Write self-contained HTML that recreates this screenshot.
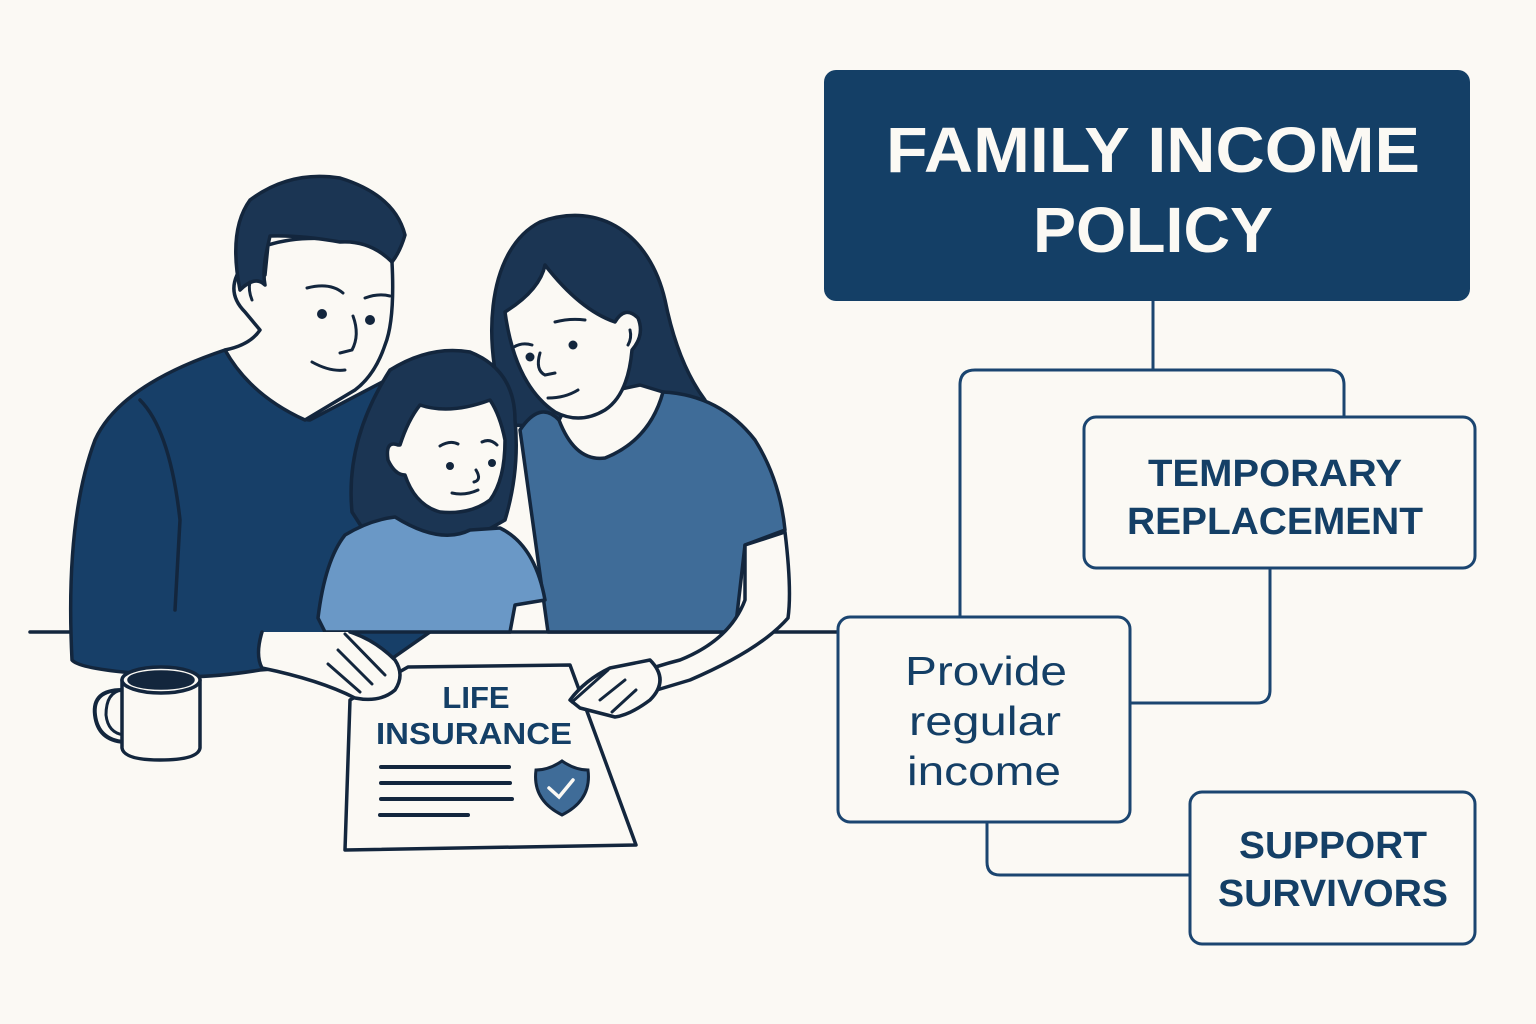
<!DOCTYPE html>
<html><head><meta charset="utf-8"><style>
html,body{margin:0;padding:0;background:#fbf9f4;}
svg{display:block}
</style></head><body>
<svg width="1536" height="1024" viewBox="0 0 1536 1024" xmlns="http://www.w3.org/2000/svg" font-family="Liberation Sans, sans-serif">
<rect width="1536" height="1024" fill="#fbf9f4"/>
<g stroke="#13263d" stroke-width="3.5" stroke-linejoin="round" stroke-linecap="round">
<line x1="30" y1="632" x2="840" y2="632" fill="none"/>
<!-- mother hair back -->
<path d="M510,425 C480,350 485,250 540,222 C600,200 650,235 665,300 C675,350 690,380 705,400 L640,430 Z" fill="#1b3553"/>
<!-- mother body -->
<path d="M548,632 L520,430 Q540,400 559,420 L663,392 Q720,395 755,440 Q780,480 785,530 L745,545 L735,632 Z" fill="#3f6c98"/>
<path d="M559,420 Q575,462 605,458 Q650,440 663,392 L640,385 L570,400 Z" fill="#fbf9f4"/>
<path d="M745,545 L785,532 Q792,590 788,618 Q760,650 690,680 L640,695 L620,700 L600,690 Q640,670 680,660 Q730,640 745,600 Z" fill="#fbf9f4"/>
<!-- mother face -->
<path d="M505,312 Q540,290 545,265 Q580,310 615,322 Q625,305 638,318 Q645,335 632,350 Q628,395 605,410 Q580,425 555,412 Q515,385 505,312 Z" fill="#fbf9f4"/>
<!-- father body -->
<path d="M72,660 Q65,520 95,440 Q120,385 225,350 L250,360 Q290,420 310,420 L390,378 L430,390 L430,632 L390,660 L260,670 Q200,680 160,675 Q80,670 72,660 Z" fill="#173f68"/>
<path d="M140,400 Q170,430 180,520 L175,610" fill="none"/>
<!-- father neck/face -->
<path d="M225,350 Q250,345 260,330 L245,312 Q228,295 237,275 Q250,265 265,275 L268,245 Q300,235 340,240 Q380,240 392,262 Q395,320 385,345 Q375,375 355,390 Q330,405 305,420 Q250,395 225,350 Z" fill="#fbf9f4"/>
<!-- father hair -->
<path d="M240,290 Q228,230 250,200 Q290,170 340,178 Q395,195 405,235 Q400,252 392,262 Q370,240 340,242 Q300,235 270,236 L268,245 Q262,270 265,285 Q255,275 240,290 Z" fill="#1b3553"/>
<!-- child hair -->
<path d="M352,512 Q345,440 390,370 Q430,345 470,352 Q515,370 515,420 Q520,470 505,520 L470,540 L370,540 Z" fill="#1b3553"/>
<!-- child body -->
<path d="M318,618 Q325,560 345,535 Q370,520 395,517 Q440,545 470,530 L500,528 Q535,545 545,600 L515,605 L510,632 L325,632 Z" fill="#6a98c6"/>
<!-- child face -->
<path d="M398,445 Q385,440 388,460 Q395,475 405,475 Q415,505 440,512 Q470,515 490,500 Q505,480 505,440 Q500,415 490,400 Q450,415 420,405 Q408,420 400,445 Z" fill="#fbf9f4"/>
<!-- document -->
<path d="M408,667 L570,665 L636,845 L345,850 L350,700 Z" fill="#fbf9f4"/>
<!-- father hand -->
<path d="M262,632 Q255,655 262,668 Q320,680 355,698 Q380,703 395,690 Q405,675 395,660 Q375,640 350,632" fill="#fbf9f4"/>
<path d="M345,634 L385,675 M338,650 L372,684 M328,664 L360,692" fill="none" stroke-width="3"/>
<!-- mother hand -->
<path d="M570,700 Q585,680 610,668 L650,660 Q670,680 650,700 Q630,715 615,717 L580,708 Z" fill="#fbf9f4"/>
<path d="M572,702 L608,670 M600,700 L625,680 M612,712 L636,690" fill="none" stroke-width="3"/>
<!-- mug -->
<path d="M122,690 Q92,690 95,715 Q98,740 124,742" fill="none" stroke-width="4"/>
<path d="M122,690 Q106,692 106,715 Q108,733 124,735" fill="none" stroke-width="3"/>
<path d="M122,680 L122,748 Q124,760 160,760 Q198,760 200,748 L200,680 Z" fill="#fbf9f4"/>
<ellipse cx="161" cy="680" rx="39" ry="13" fill="#fbf9f4"/>
<ellipse cx="161" cy="680" rx="32" ry="8" fill="#13263d"/>
</g>
<g fill="#13263d">
<circle cx="322" cy="314" r="5"/><circle cx="370" cy="320" r="5"/>
<circle cx="530" cy="357" r="4.5"/><circle cx="573" cy="345" r="4.5"/>
<circle cx="450" cy="466" r="4"/><circle cx="492" cy="463" r="4"/>
</g>
<g fill="none" stroke="#13263d" stroke-width="3" stroke-linecap="round">
<path d="M307,288 Q330,282 343,293"/><path d="M365,298 Q378,293 390,296"/>
<path d="M353,316 Q360,335 352,350 L340,353"/><path d="M312,362 Q330,372 345,370"/>
<path d="M514,347 Q522,342 532,345"/><path d="M555,322 Q570,318 585,320"/>
<path d="M540,353 Q535,370 545,375 L555,373"/><path d="M548,398 Q565,398 578,390"/>
<path d="M440,446 Q450,440 458,444"/><path d="M482,442 Q490,438 497,445"/>
<path d="M476,470 Q482,480 474,482"/><path d="M452,493 Q465,496 478,490"/>
<path d="M250,282 Q248,290 252,300"/><path d="M630,330 Q632,338 628,345"/>
</g>
<text x="476" y="708" font-size="31" font-weight="bold" fill="#143f66" text-anchor="middle">LIFE</text>
<text x="474" y="744" font-size="31" font-weight="bold" fill="#143f66" text-anchor="middle" textLength="196" lengthAdjust="spacingAndGlyphs">INSURANCE</text>
<g stroke="#13263d" stroke-width="4" stroke-linecap="round">
<line x1="381" y1="767" x2="509" y2="767"/><line x1="381" y1="783" x2="510" y2="783"/>
<line x1="381" y1="799" x2="512" y2="799"/><line x1="380" y1="815" x2="468" y2="815"/>
</g>
<path d="M562,761 Q575,770 588,770 Q592,800 562,815 Q532,800 536,770 Q549,770 562,761 Z" fill="#3f6c98" stroke="#13263d" stroke-width="3"/>
<path d="M549,788 L559,797 L573,780" fill="none" stroke="#fbf9f4" stroke-width="3.5" stroke-linecap="round"/>

<g fill="none" stroke="#1b4570" stroke-width="3">
<path d="M1153,301 L1153,370"/>
<path d="M960,617 L960,385 Q960,370 975,370 L1329,370 Q1344,370 1344,385 L1344,417"/>
<path d="M1270,568 L1270,690 Q1270,703 1257,703 L1130,703"/>
<path d="M987,822 L987,862 Q987,875 1000,875 L1190,875"/>
<rect x="1084" y="417" width="391" height="151" rx="12" fill="#fbf9f4"/>
<rect x="838" y="617" width="292" height="205" rx="12" fill="#fbf9f4"/>
<rect x="1190" y="792" width="285" height="152" rx="12" fill="#fbf9f4"/>
</g>
<rect x="824" y="70" width="646" height="231" rx="12" fill="#143f66"/>
<text x="1153" y="172" font-size="64" font-weight="bold" fill="#fbf9f4" text-anchor="middle" textLength="534" lengthAdjust="spacingAndGlyphs">FAMILY INCOME</text>
<text x="1153" y="252" font-size="64" font-weight="bold" fill="#fbf9f4" text-anchor="middle" textLength="240" lengthAdjust="spacingAndGlyphs">POLICY</text>
<g fill="#143f66" font-weight="bold" font-size="38" text-anchor="middle">
<text x="1275" y="486" textLength="254" lengthAdjust="spacingAndGlyphs">TEMPORARY</text>
<text x="1275" y="534" textLength="296" lengthAdjust="spacingAndGlyphs">REPLACEMENT</text>
<text x="1333" y="858" textLength="188" lengthAdjust="spacingAndGlyphs">SUPPORT</text>
<text x="1333" y="906" textLength="230" lengthAdjust="spacingAndGlyphs">SURVIVORS</text>
</g>
<g fill="#143f66" font-size="41" text-anchor="middle">
<text x="986" y="685" textLength="162" lengthAdjust="spacingAndGlyphs">Provide</text>
<text x="985" y="735" textLength="152" lengthAdjust="spacingAndGlyphs">regular</text>
<text x="984" y="785" textLength="154" lengthAdjust="spacingAndGlyphs">income</text>
</g>
</svg>
</body></html>
